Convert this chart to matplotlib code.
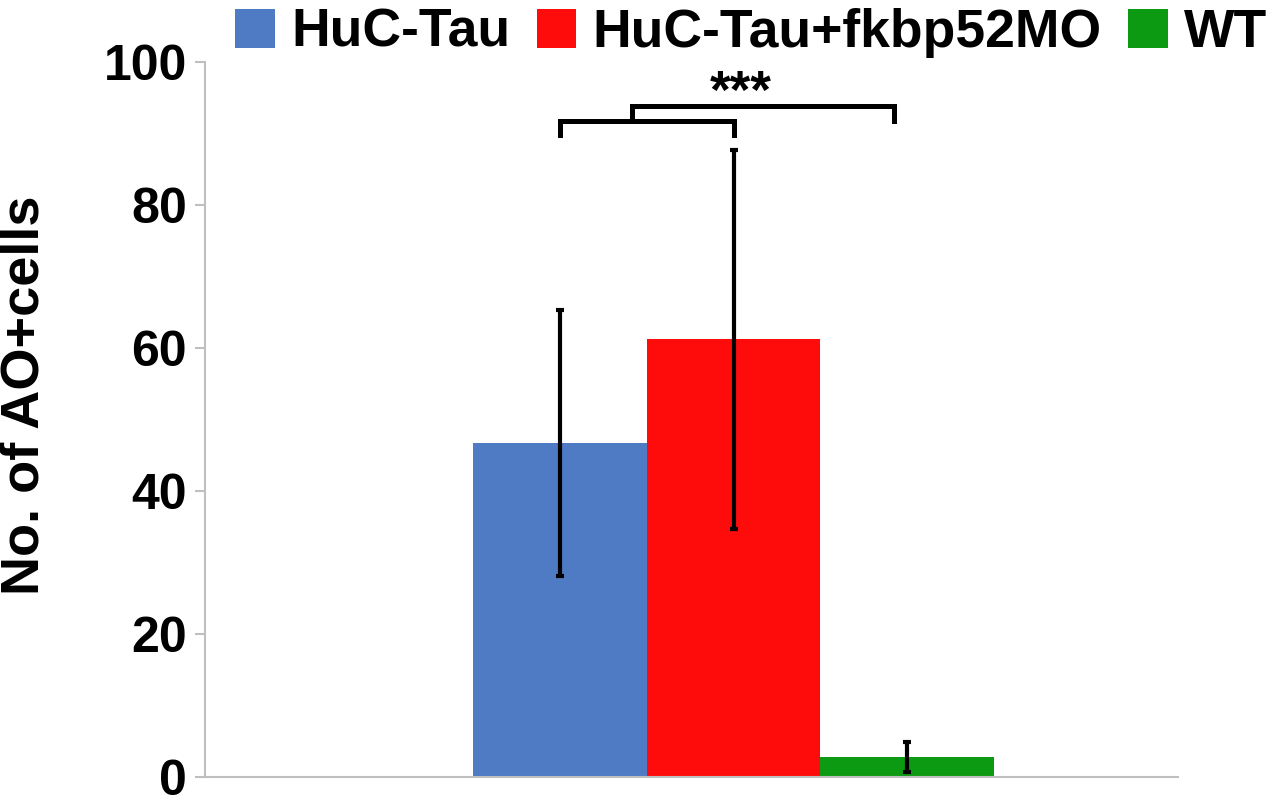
import matplotlib.pyplot as plt
from matplotlib.patches import Patch

plt.rcParams['font.family'] = ['Liberation Sans', 'DejaVu Sans']
plt.rcParams['font.weight'] = 'bold'

groups = ['HuC-Tau', 'HuC-Tau+fkbp52MO', 'WT']
means = [46.7, 61.2, 2.8]
errs = [18.6, 26.5, 2.1]
colors = ['#4f7ac4', '#fe0c0c', '#0c9a12']
yticks = [0, 20, 40, 60, 80, 100]

fig = plt.figure(figsize=(12.8, 8.01), dpi=100)
ax = fig.add_axes([0.1602, 0.02996, 0.7601, 0.8926])

xs = list(range(len(groups)))
ax.bar(xs, means, width=1.0, color=colors, edgecolor='none', zorder=2)
ax.errorbar(xs, means, yerr=errs, fmt='none', ecolor='black',
            elinewidth=3, capsize=3, capthick=3, zorder=3)

# significance brackets
lw = 3.6
ax.plot([0, 0, 1, 1], [89.8, 91.75, 91.75, 89.8], color='black', lw=lw,
        solid_joinstyle='miter', clip_on=False, zorder=4)
ax.plot([0.415, 0.415, 1.925, 1.925], [91.75, 93.85, 93.85, 91.75],
        color='black', lw=lw, solid_joinstyle='miter', clip_on=False, zorder=4)
ax.text(1.04, 95.6, '***', ha='center', va='center', fontsize=38,
        fontweight='bold')

ax.set_xlim(-2.046, 3.562)
ax.set_ylim(0, 100)
ax.set_xticks([])
ax.set_yticks(yticks)
ax.tick_params(axis='y', direction='out', length=7, width=1.5,
               color='#bfbfbf', labelsize=36, pad=6)
for lab in ax.get_yticklabels():
    lab.set_fontweight('bold')

for s in ['top', 'right']:
    ax.spines[s].set_visible(False)
for s in ['left', 'bottom']:
    ax.spines[s].set_color('#bfbfbf')
    ax.spines[s].set_linewidth(1.5)

ax.set_ylabel('No. of AO+cells', fontsize=39, fontweight='bold')
ax.yaxis.set_label_coords(-0.160, 0.534)

handles = [Patch(facecolor=c, edgecolor='none') for c in colors]
fig.legend(handles, groups, loc='center', bbox_to_anchor=(0.587, 0.959),
           ncol=3, frameon=False, handlelength=0.74,
           handleheight=0.74, handletextpad=0.3, columnspacing=0.5,
           prop={'weight': 'bold', 'size': 38.5})

fig.savefig('out.png', dpi=100)
